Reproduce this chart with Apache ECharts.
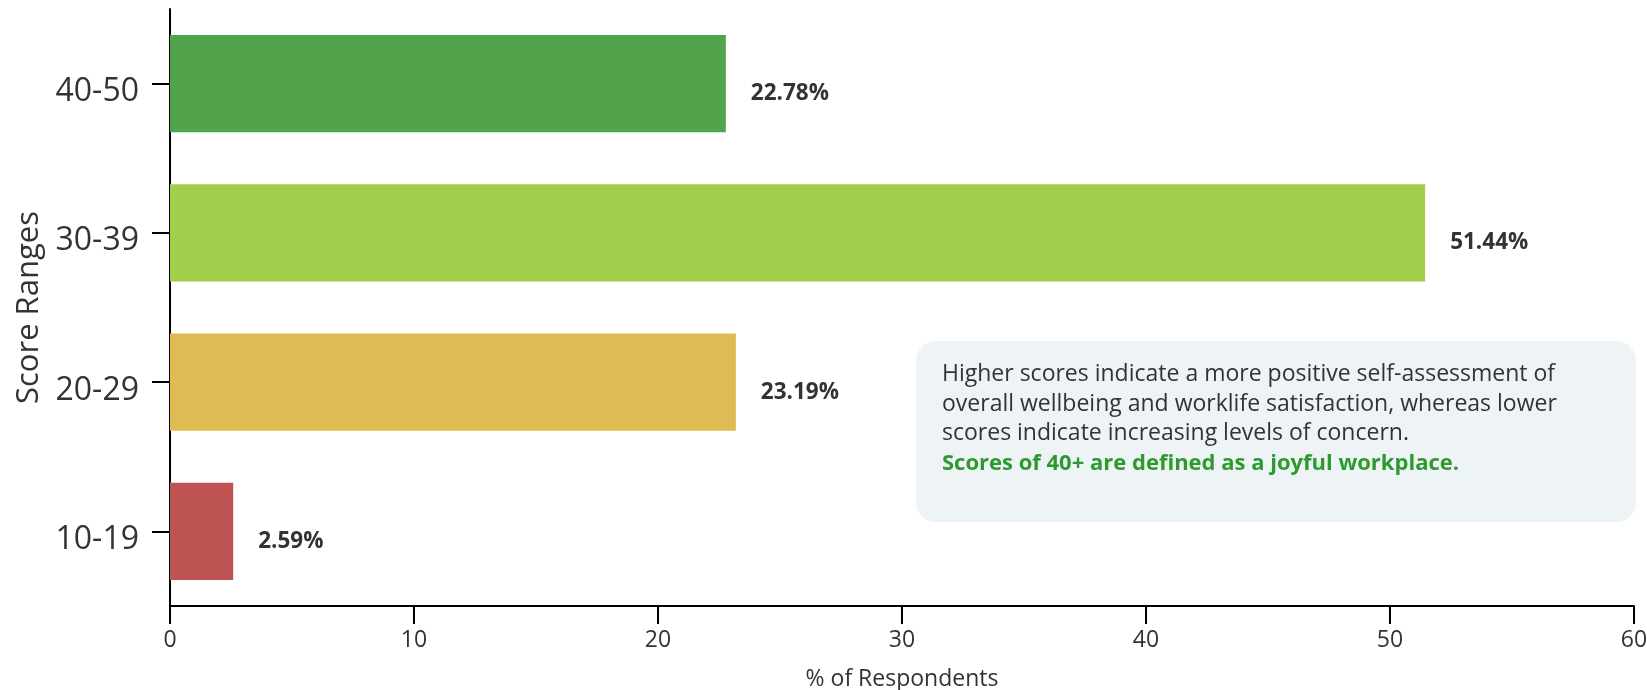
<!DOCTYPE html>
<html>
<head>
<meta charset="utf-8">
<script src="https://cdn.jsdelivr.net/npm/echarts@6/dist/echarts.min.js"></script>
<style>
html,body{margin:0;padding:0;background:#fff;}
#chart{width:1647px;height:690px;}
</style>
</head>
<body>
<div id="chart"></div>
<script>
const categories = ['10-19', '20-29', '30-39', '40-50'];
const values = [2.59, 23.19, 51.44, 22.78];
const barColors = ['#bd5352', '#e0bb53', '#a1cf4c', '#52a44c'];
const xTicks = [0, 10, 20, 30, 40, 50, 60];
const noteLines = [
  'Higher scores indicate a more positive self-assessment of',
  'overall wellbeing and worklife satisfaction, whereas lower',
  'scores indicate increasing levels of concern.'
];
const noteHighlight = 'Scores of 40+ are defined as a joyful workplace.';

const chart = echarts.init(document.getElementById('chart'));
const font = '"Open Sans", sans-serif';

const noteText = noteLines.join('\n');

chart.setOption({
  animation: false,
  grid: { left: 170, right: 13, top: 9, bottom: 84, containLabel: false, outerBoundsMode: 'none' },
  xAxis: {
    type: 'value',
    min: xTicks[0], max: xTicks[xTicks.length - 1], interval: 10,
    name: '% of Respondents', nameLocation: 'middle', nameGap: 62,
    nameTextStyle: { fontFamily: font, fontSize: 23, color: '#333' },
    axisLine: { show: true, lineStyle: { color: '#000', width: 2 } },
    axisTick: { show: true, length: 18, lineStyle: { color: '#000', width: 2 } },
    axisLabel: { fontFamily: font, fontSize: 23, color: '#333', margin: 23 },
    splitLine: { show: false }
  },
  yAxis: {
    type: 'category',
    data: categories,
    name: 'Score Ranges', nameLocation: 'middle', nameGap: 125,
    nameTextStyle: { fontFamily: font, fontSize: 31, color: '#333' },
    axisLine: { show: true, lineStyle: { color: '#000', width: 2 } },
    axisTick: { show: true, length: 18, alignWithLabel: true, lineStyle: { color: '#000', width: 2 } },
    axisLabel: {
      margin: 31,
      formatter: v => '{a|' + v + '}',
      rich: { a: { fontFamily: font, fontSize: 32, color: '#333', padding: [17, 0, 0, 0] } }
    }
  },
  series: [{
    type: 'bar',
    barCategoryGap: '35%',
    data: values.map((v, i) => ({ value: v, itemStyle: { color: barColors[i] } })),
    label: {
      show: true, position: 'right', distance: 25, offset: [0, 10],
      formatter: p => p.value.toFixed(2) + '%',
      fontFamily: font, fontSize: 22.5, fontWeight: 'bold', color: '#333'
    }
  }],
  graphic: [
    {
      type: 'rect', left: 916, top: 341,
      shape: { width: 720, height: 181, r: 20 },
      style: { fill: '#eef3f6' }
    },
    {
      type: 'text', left: 942, top: 360,
      style: {
        text: noteText, font: '23px "Open Sans", sans-serif', fill: '#333', lineHeight: 29.5
      }
    },
    {
      type: 'text', left: 942, top: 449,
      style: {
        text: noteHighlight, font: 'bold 22px "Open Sans", sans-serif', fill: '#2e9a2e', lineHeight: 29.5
      }
    }
  ]
});
</script>
</body>
</html>
